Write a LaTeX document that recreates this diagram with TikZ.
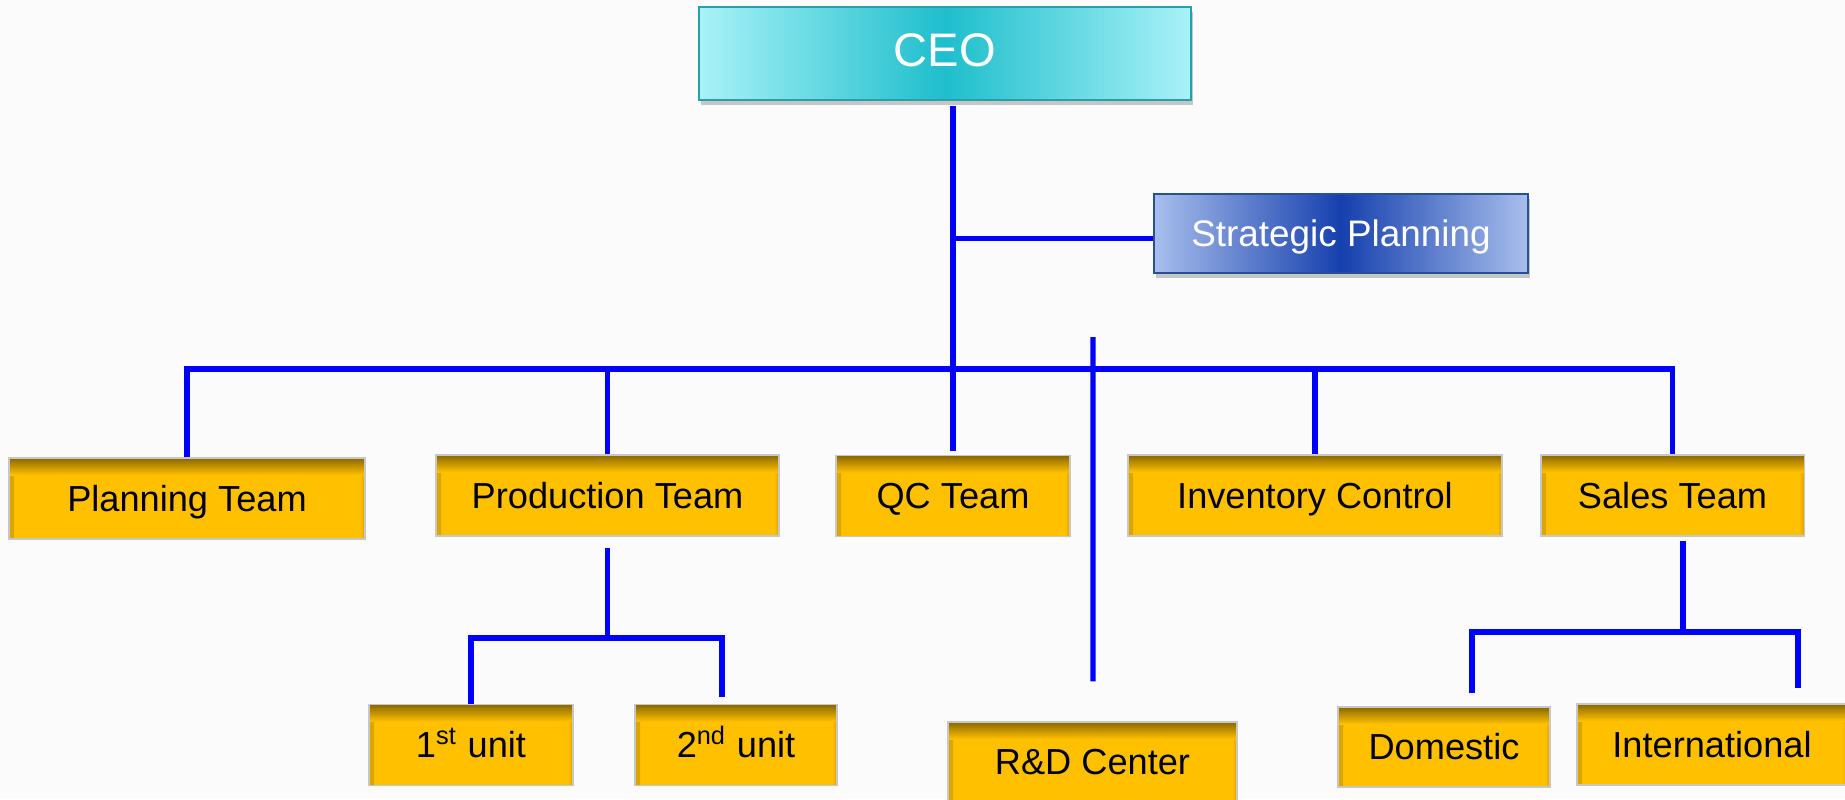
\documentclass[tikz,border=0pt]{standalone}
\usepackage{fontspec}
\setmainfont{Liberation Sans}
\usetikzlibrary{shadows}
\definecolor{gold}{RGB}{255,192,0}
\definecolor{linkblue}{RGB}{0,0,255}
\definecolor{ceoedge}{RGB}{170,242,247}
\definecolor{ceomid}{RGB}{30,190,204}
\definecolor{ceoline}{RGB}{40,160,170}
\definecolor{stratedge}{RGB}{168,190,236}
\definecolor{stratmid}{RGB}{22,64,174}
\definecolor{stratline}{RGB}{40,80,150}
\definecolor{paper}{RGB}{251,251,251}

\begin{document}
\begin{tikzpicture}
[team/.style={draw=black!22, line width=0.3pt, fill=gold, minimum height=0.81cm, inner sep=0pt,
   text height=0.72em, text depth=0pt, font=\fontsize{10.3}{12}\selectfont,
   path picture={
     \shade[left color=gold!86!black, right color=gold] (path picture bounding box.south west) rectangle ([xshift=0.05cm]path picture bounding box.north west);
     \shade[left color=gold, right color=gold!86!black] ([xshift=-0.05cm]path picture bounding box.south east) rectangle (path picture bounding box.north east);
     \shade[top color=gold!54!black, bottom color=gold] (path picture bounding box.north west) rectangle ([yshift=-0.17cm]path picture bounding box.north east);
   }},
 ceobox/.style={draw=ceoline, line width=0.6pt, left color=ceoedge, right color=ceoedge, middle color=ceomid,
   minimum width=4.92cm, minimum height=0.93cm, inner sep=0pt, text height=0.72em, text depth=0pt,
   text=white, font=\fontsize{13.4}{16}\selectfont,
   drop shadow={shadow xshift=0.02cm, shadow yshift=-0.05cm, opacity=0.3, fill=black!70}},
 stratbox/.style={draw=stratline, line width=0.6pt, left color=stratedge, right color=stratedge, middle color=stratmid,
   minimum width=3.74cm, minimum height=0.79cm, inner sep=0pt, text height=0.72em, text depth=0pt,
   text=white, font=\fontsize{10.5}{12}\selectfont,
   drop shadow={shadow xshift=0.02cm, shadow yshift=-0.05cm, opacity=0.3, fill=black!70}},
 link/.style={draw=linkblue, line width=1.45pt, line join=miter}]

\useasboundingbox (0,0) rectangle (18.45,7.99);
\fill[paper] (0,0) rectangle (18.45,7.99);

% top of the chart
\node[ceobox] (ceo) at (9.45,7.455) {CEO};
\node[stratbox] (strategy) at (13.41,5.655) {Strategic Planning};

% first level teams
\node[team, minimum width=3.56cm] (planning) at (1.87,3.005) {Planning Team};
\node[team, minimum width=3.43cm] (production) at (6.075,3.035) {Production Team};
\node[team, minimum width=2.34cm] (qc) at (9.53,3.03) {QC Team};
\node[team, minimum width=3.74cm] (inventory) at (13.15,3.035) {Inventory Control};
\node[team, minimum width=2.63cm] (sales) at (16.725,3.035) {Sales Team};

% second level
\node[team, minimum width=2.04cm] (unitone) at (4.71,0.54) {1\textsuperscript{st} unit};
\node[team, minimum width=2.02cm] (unittwo) at (7.36,0.54) {2\textsuperscript{nd} unit};
\node[team, minimum width=2.89cm, minimum height=0.80cm] (rnd) at (10.925,0.37) {R\&D Center};
\node[team, minimum width=2.12cm, minimum height=0.80cm] (domestic) at (14.44,0.52) {Domestic};
\node[team, minimum width=2.70cm] (intl) at (17.12,0.545) {International};

% fork points and loose line ends
\coordinate (busL) at (1.87,4.30);
\coordinate (busR) at (16.725,4.30);
\coordinate (rndtop) at (10.93,4.62);
\coordinate (prodfork) at (6.075,1.61);
\coordinate (unittwotop) at (7.22,1.02);
\coordinate (salesfork) at (16.83,1.67);
\coordinate (domtop) at (14.72,1.06);
\coordinate (intltop) at (17.98,1.11);

% connectors
\draw[link] (qc.north |- ceo.south) ++(0,-0.05) -- ([yshift=0.04cm]qc.north);
\draw[link] (strategy.west -| qc.north) ++(0,-0.05) -- ([yshift=-0.05cm]strategy.west);
\draw[link] (planning.north) -- (busL) -- (busR) -- (sales.north);
\draw[link] (production.north |- busL) -- (production.north);
\draw[link] (inventory.north |- busL) -- (inventory.north);
\draw[link] (rndtop) -- ([yshift=0.4cm, xshift=0.005cm]rnd.north);

\draw[link] ([yshift=-0.11cm]production.south) -- (prodfork);
\draw[link] (unitone.north) |- (unittwotop |- prodfork) -- (unittwotop);

\draw[link] ([shift={(0.105,-0.04)}]sales.south) -- (salesfork);
\draw[link] (domtop) |- (intltop |- salesfork) -- (intltop);
\end{tikzpicture}
\end{document}
